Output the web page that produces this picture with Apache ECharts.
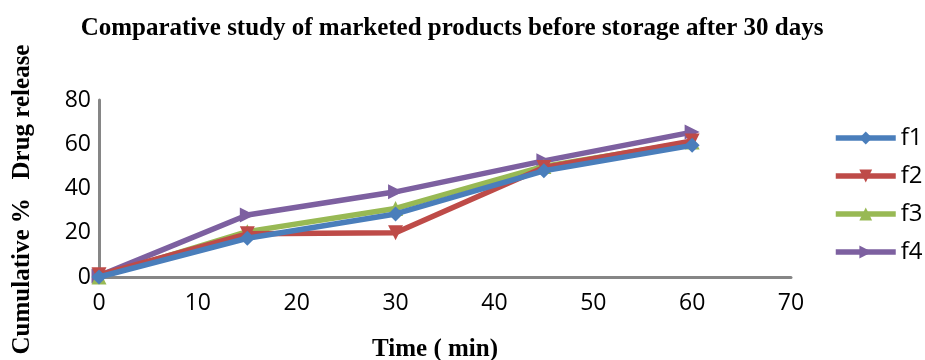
<!DOCTYPE html>
<html>
<head>
<meta charset="utf-8">
<script src="https://cdn.jsdelivr.net/npm/echarts@6/dist/echarts.min.js"></script>
<style>
  html, body { margin: 0; padding: 0; background: #ffffff; }
  #chart { width: 925px; height: 360px; }
</style>
</head>
<body>
<div id="chart"></div>
<script>
// Sampling times (min)
const times = [0, 15, 30, 45, 60];
// Cumulative % drug release per formulation
const f1 = [0, 17.5, 28.5, 48, 59.5];
const f2 = [1, 19.5, 20, 49.5, 61.5];
const f3 = [0, 20.5, 31, 50, 61];
const f4 = [0.5, 28, 38.5, 52.5, 65.5];
const seriesNames = ['f1', 'f2', 'f3', 'f4'];
const xTicks = [0, 10, 20, 30, 40, 50, 60, 70];
const yTicks = [0, 20, 40, 60, 80];

const colors = ['#4a7ebb', '#be4b48', '#98b954', '#7d60a0'];
const symbols = ['diamond', 'triangle', 'triangle', 'triangle'];
const rotations = [0, 180, 0, -90];
const values = [f1, f2, f3, f4];

const chart = echarts.init(document.getElementById('chart'));

const series = seriesNames.map((name, i) => ({
  name: name,
  type: 'line',
  data: times.map((t, j) => [t, values[i][j]]),
  symbol: symbols[i],
  symbolSize: 15,
  symbolRotate: rotations[i],
  lineStyle: { width: 5.5, color: colors[i] },
  itemStyle: { color: colors[i] },
  z: 10 - i,
  animation: false
}));

chart.setOption({
  animation: false,
  title: {
    text: 'Comparative study of marketed products before storage after 30 days',
    left: 447,
    textAlign: 'center',
    top: 11,
    textStyle: {
      fontFamily: 'Liberation Serif',
      fontWeight: 'bold',
      fontSize: 25,
      color: '#000'
    }
  },
  legend: {
    orient: 'vertical',
    left: 833,
    top: 126,
    padding: 0,
    itemWidth: 60,
    itemHeight: 16,
    itemGap: 14,
    data: seriesNames,
    lineStyle: { width: 5.5 },
    textStyle: { fontFamily: 'Open Sans', fontSize: 24, color: '#000' }
  },
  grid: { left: 99, right: 134, top: 100, bottom: 83, outerBoundsMode: 'none', containLabel: false },
  xAxis: {
    type: 'value',
    min: xTicks[0],
    max: xTicks[xTicks.length - 1],
    interval: 10,
    name: 'Time ( min)',
    nameLocation: 'middle',
    nameGap: 60,
    nameTextStyle: { fontFamily: 'Liberation Serif', fontWeight: 'bold', fontSize: 25, color: '#000', padding: [0, 20, 0, 0] },
    axisLine: { lineStyle: { color: '#868686', width: 3 } },
    axisTick: { show: false },
    splitLine: { show: false },
    axisLabel: { fontFamily: 'Open Sans', fontSize: 23, color: '#000', margin: 15 }
  },
  yAxis: {
    type: 'value',
    min: yTicks[0],
    max: yTicks[yTicks.length - 1],
    interval: 20,
    name: 'Cumulative %   Drug release',
    nameLocation: 'middle',
    nameGap: 64,
    nameTextStyle: { fontFamily: 'Liberation Serif', fontWeight: 'bold', fontSize: 25, color: '#000', padding: [0, 22, 0, 0] },
    axisLine: { show: true, lineStyle: { color: '#868686', width: 3 } },
    axisTick: { show: false },
    splitLine: { show: false },
    axisLabel: { fontFamily: 'Open Sans', fontSize: 23, color: '#000', margin: 8 }
  },
  series: series
});
</script>
</body>
</html>
